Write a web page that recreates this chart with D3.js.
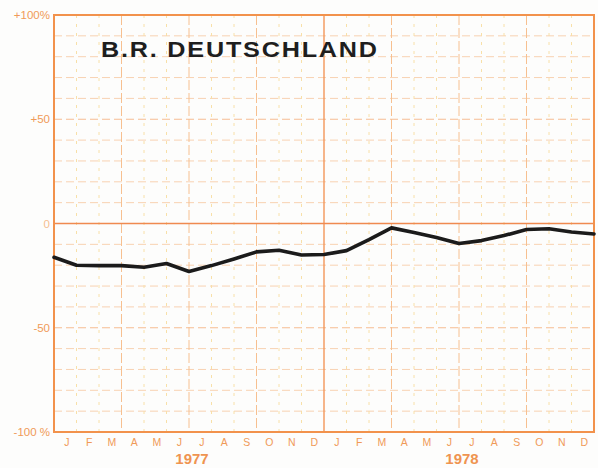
<!DOCTYPE html>
<html>
<head>
<meta charset="utf-8">
<script src="https://cdn.jsdelivr.net/npm/d3@7"></script>
<style>
  html, body { margin: 0; padding: 0; background: #fdfdfc; }
  svg { display: block; }
  .axis text { font-family: "Liberation Sans", Arial, sans-serif; fill: #f09a58; }
</style>
</head>
<body>
<svg id="chart" width="598" height="468"></svg>
<script>
// month initials, Jan 1977 .. Dec 1978
var months = ['J','F','M','A','M','J','J','A','S','O','N','D',
              'J','F','M','A','M','J','J','A','S','O','N','D'];
var years = ['1977', '1978'];
// change in % read at each month boundary (25 points)
var values = [-16.2, -20, -20.2, -20.2, -21, -19.2, -23, -20.2, -17, -13.6, -12.8, -15.1,
              -14.9, -13, -7.7, -2.1, -4.3, -6.7, -9.6, -8.2, -5.8, -2.9, -2.5, -4.1, -5];
var yTicks = [100, 50, 0, -50, -100];
var yLabels = ['+100%', '+50', '0', '-50', '-100 %'];

var svg = d3.select('#chart');
var plotLeft = 54, plotRight = 594, plotTop = 15, plotBottom = 432;

var x = d3.scaleLinear().domain([0, 24]).range([plotLeft, plotRight]);
var xBand = d3.scaleBand().domain(d3.range(24)).range([plotLeft, plotRight]);
var y = d3.scaleLinear().domain([-100, 100]).range([plotBottom, plotTop]);

var grid = svg.append('g').attr('class', 'grid');

// horizontal lines every 10%
grid.selectAll('line.h')
  .data(d3.range(-90, 100, 10).filter(d => d !== 0))
  .enter().append('line')
  .attr('class', 'h')
  .attr('x1', plotLeft).attr('x2', plotRight)
  .attr('y1', d => y(d)).attr('y2', d => y(d))
  .attr('stroke', d => d % 50 === 0 ? '#f6bc92' : '#f8d2b2')
  .attr('stroke-width', 1)
  .attr('stroke-dasharray', '8,4');

// monthly vertical lines, quarters stronger
grid.selectAll('line.v')
  .data(d3.range(1, 24))
  .enter().append('line')
  .attr('class', 'v')
  .attr('x1', d => x(d)).attr('x2', d => x(d))
  .attr('y1', plotTop).attr('y2', plotBottom)
  .attr('stroke', d => d % 12 === 0 ? '#f2965a' : (d % 3 === 0 ? '#f7c090' : '#f8e0a8'))
  .attr('stroke-width', d => d % 12 === 0 ? 1.4 : 1)
  .attr('stroke-dasharray', d => d % 12 === 0 ? null : (d % 3 === 0 ? '10,3' : '3,6'));

// zero line
svg.append('line')
  .attr('x1', plotLeft).attr('x2', plotRight)
  .attr('y1', y(0)).attr('y2', y(0))
  .attr('stroke', '#f08a50').attr('stroke-width', 1.4);

// frame
svg.append('rect')
  .attr('x', plotLeft).attr('y', plotTop)
  .attr('width', plotRight - plotLeft).attr('height', plotBottom - plotTop)
  .attr('fill', 'none').attr('stroke', '#f2924c').attr('stroke-width', 2);

// y axis labels
var yAxis = svg.append('g')
  .attr('class', 'axis')
  .attr('transform', `translate(${plotLeft - 1},0)`)
  .call(d3.axisLeft(y).tickValues(yTicks).tickSize(0).tickPadding(3)
    .tickFormat((d, i) => yLabels[i]));
yAxis.select('.domain').remove();
yAxis.selectAll('text').attr('font-size', 11.5)
  .style('fill', d => d === 0 ? '#f6be90' : '#f09a58');

// month labels
var xAxis = svg.append('g')
  .attr('class', 'axis')
  .attr('transform', `translate(1.5,${plotBottom})`)
  .call(d3.axisBottom(xBand).tickSize(0).tickPadding(7).tickFormat(i => months[i]));
xAxis.select('.domain').remove();
xAxis.selectAll('text').attr('font-size', 10.5);

// year labels
svg.selectAll('text.year')
  .data(years)
  .enter().append('text')
  .attr('class', 'year')
  .attr('x', (d, i) => x(i * 12 + 6) + 3)
  .attr('y', 464)
  .attr('text-anchor', 'middle')
  .attr('font-family', '"Liberation Sans", Arial, sans-serif')
  .attr('font-weight', 'bold')
  .attr('font-size', 15)
  .attr('fill', '#ef9450')
  .text(d => d);

// data line
var line = d3.line()
  .x((d, i) => x(i))
  .y(d => y(d));

svg.append('path')
  .datum(values)
  .attr('d', line)
  .attr('fill', 'none')
  .attr('stroke', '#1b1b1b')
  .attr('stroke-width', 3.6)
  .attr('stroke-linejoin', 'round')
  .attr('stroke-linecap', 'round');

// title, slightly widened glyphs like the printed original
var sx = 1.12;
var title = svg.append('text')
  .attr('transform', `translate(101,57) scale(${sx},1)`)
  .attr('font-family', '"Liberation Sans", Arial, sans-serif')
  .attr('font-weight', 'bold')
  .attr('font-size', 22.5)
  .attr('fill', '#1e1e1e')
  .text('B.R. DEUTSCHLAND');
var tw = title.node().getComputedTextLength();
title.attr('letter-spacing', (276 / sx - tw) / 15);
</script>
</body>
</html>
